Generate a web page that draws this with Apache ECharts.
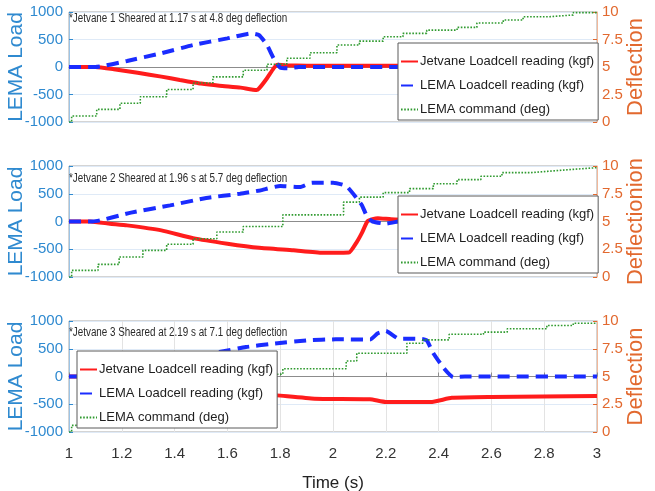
<!DOCTYPE html>
<html>
<head>
<meta charset="utf-8">
<script src="https://cdn.jsdelivr.net/npm/echarts@6/dist/echarts.min.js"></script>
<style>
  html, body { margin: 0; padding: 0; background: #fff; }
  #chart { width: 655px; height: 491px; }
</style>
</head>
<body>
<div id="chart"></div>
<script>
// ---- data: time (s), loads (kgf), command (deg) ----
const timeTicks = [1, 1.2, 1.4, 1.6, 1.8, 2, 2.2, 2.4, 2.6, 2.8, 3];
const loadTicks = [-1000, -500, 0, 500, 1000];
const deflTicks = [0, 2.5, 5, 7.5, 10];

const seriesNames = ['Jetvane Loadcell reading (kgf)', 'LEMA Loadcell reading (kgf)', 'LEMA command (deg)'];
const notes = [
  '*Jetvane 1 Sheared at 1.17 s at 4.8 deg deflection',
  '*Jetvane 2 Sheared at 1.96 s at 5.7 deg deflection',
  '*Jetvane 3 Sheared at 2.19 s at 7.1 deg deflection'
];
const rightNames = ['Deflection', 'Deflectionion', 'Deflection'];

// Jetvane 1
const jet1T = [1.00, 1.10, 1.17, 1.26, 1.35, 1.42, 1.50, 1.57, 1.65, 1.71, 1.72, 1.75, 1.775, 1.79, 1.82, 1.90, 2.20, 2.60, 3.00];
const jet1 = [0, 0, -40, -105, -175, -235, -300, -340, -375, -418, -390, -205, -25, 40, 30, 25, 25, 25, 25];
const lema1T = [1.00, 1.10, 1.22, 1.35, 1.47, 1.60, 1.69, 1.72, 1.75, 1.775, 1.80, 1.83, 1.87, 2.40, 3.00];
const lema1 = [0, 0, 110, 250, 400, 520, 612, 580, 400, 160, -10, -25, 0, 0, 0];
const cmd1T = [1.00, 1.01, 1.105, 1.193, 1.27, 1.37, 1.47, 1.545, 1.66, 1.75, 1.825, 1.913, 2.015, 2.10, 2.19, 2.265, 2.355, 2.47, 2.545, 2.645, 2.72, 2.82, 2.91, 3.00];
const cmd1 = [0, 0.55, 1.15, 1.7, 2.3, 2.95, 3.55, 4.1, 4.7, 5.25, 5.8, 6.3, 7.0, 7.35, 7.75, 8.06, 8.35, 8.6, 9.0, 9.27, 9.57, 9.73, 9.94, 9.94];

// Jetvane 2
const jet2T = [1.00, 1.08, 1.155, 1.22, 1.35, 1.47, 1.60, 1.72, 1.85, 1.96, 2.06, 2.09, 2.11, 2.13, 2.15, 2.17, 2.22, 2.30, 2.50, 3.00];
const jet2 = [0, 0, -40, -70, -160, -300, -400, -475, -520, -565, -560, -370, -200, 0, 40, 60, 40, 30, 20, 20];
const lema2T = [1.00, 1.09, 1.235, 1.383, 1.52, 1.648, 1.723, 1.80, 1.875, 1.92, 2.00, 2.05, 2.09, 2.11, 2.13, 2.15, 2.20, 2.25, 3.00];
const lema2 = [0, 0, 160, 290, 425, 500, 560, 640, 620, 700, 700, 640, 420, 290, 80, 0, -40, 0, 0];
const cmd2T = [1.00, 1.01, 1.11, 1.19, 1.28, 1.37, 1.47, 1.56, 1.66, 1.81, 2.04, 2.10, 2.19, 2.29, 2.38, 2.47, 2.56, 2.64, 2.75, 2.83, 2.91, 3.00];
const cmd2 = [0, 0.6, 1.14, 1.8, 2.4, 2.95, 3.45, 4.05, 4.55, 5.6, 6.75, 7.2, 7.6, 7.96, 8.4, 8.77, 9.07, 9.4, 9.55, 9.7, 9.85, 9.85];

// Jetvane 3
const jet3T = [1.00, 1.03, 1.10, 1.30, 1.50, 1.70, 1.787, 1.93, 2.14, 2.20, 2.37, 2.45, 2.60, 3.00];
const jet3 = [0, 0, -20, -150, -250, -310, -340, -400, -410, -460, -460, -385, -370, -350];
const lema3T = [1.00, 1.05, 1.10, 1.30, 1.45, 1.57, 1.67, 1.77, 1.90, 2.01, 2.14, 2.17, 2.20, 2.25, 2.33, 2.355, 2.38, 2.42, 2.455, 2.50, 3.00];
const lema3 = [0, 0, 30, 200, 330, 440, 530, 590, 650, 670, 665, 780, 820, 680, 680, 650, 420, 150, -10, 0, 0];
const cmd3T = [1.00, 1.01, 1.10, 1.19, 1.28, 1.37, 1.47, 1.56, 1.66, 1.76, 1.81, 2.05, 2.09, 2.28, 2.34, 2.44, 2.57, 2.66, 2.81, 2.91, 3.00];
const cmd3 = [0, 0.6, 1.2, 1.8, 2.4, 2.95, 3.5, 4.1, 4.6, 5.2, 5.7, 6.4, 7.1, 8.0, 8.3, 8.8, 9.0, 9.3, 9.6, 9.8, 9.8];

// ---- styling ----
const SANS = '"Liberation Sans", Arial, sans-serif';
const BLUE_AX = '#2f8ad0';
const ORANGE_AX = '#e2692f';
const RED = '#ff1c1c';
const BLUE = '#1a2cff';
const GREEN = '#2f9a2f';

const zip = (t, v) => t.map((x, i) => [x, v[i]]);

const panels = [
  { top: 12, height: 110, jet: zip(jet1T, jet1), lema: zip(lema1T, lema1), cmd: zip(cmd1T, cmd1),
    legend: { left: 398, top: 43 }, noteTop: 13 },
  { top: 166, height: 111, jet: zip(jet2T, jet2), lema: zip(lema2T, lema2), cmd: zip(cmd2T, cmd2),
    legend: { left: 398, top: 196 }, noteTop: 173 },
  { top: 321, height: 111, jet: zip(jet3T, jet3), lema: zip(lema3T, lema3), cmd: zip(cmd3T, cmd3),
    legend: { left: 77, top: 351 }, noteTop: 327 }
];

const grid = [], xAxis = [], yAxis = [], series = [], legend = [], graphic = [];

panels.forEach((p, i) => {
  const last = i === panels.length - 1;
  grid.push({ left: 69, width: 528, top: p.top, height: p.height, show: true,
              containLabel: false, outerBoundsMode: 'none',
              borderColor: '#a8a8a8', borderWidth: 1, backgroundColor: '#fff' });
  xAxis.push({
    type: 'value', gridIndex: i, min: timeTicks[0], max: timeTicks[timeTicks.length - 1], interval: 0.2,
    axisLine: { show: true, lineStyle: { color: '#8c8c8c', width: 1 } },
    axisTick: { show: last, inside: true, length: 4, lineStyle: { color: '#8c8c8c' } },
    axisLabel: { show: last, fontFamily: SANS, fontSize: 15, color: '#333', margin: 14,
                 formatter: v => String(Math.round(v * 10) / 10) },
    splitLine: { show: last, lineStyle: { color: '#e3e3e3', width: 1 } },
    name: last ? 'Time (s)' : '', nameLocation: 'middle', nameGap: 43, nameMoveOverlap: false,
    nameTextStyle: { fontFamily: SANS, fontSize: 17, color: '#222' }
  });
  yAxis.push({
    type: 'value', gridIndex: i, position: 'left', min: loadTicks[0], max: loadTicks[loadTicks.length - 1], interval: 500,
    axisLine: { show: true, lineStyle: { color: '#9cc4e6', width: 1 } },
    axisTick: { show: true, inside: true, length: 4, lineStyle: { color: BLUE_AX } },
    axisLabel: { fontFamily: SANS, fontSize: 15, color: BLUE_AX, margin: 6, formatter: v => String(v) },
    splitLine: { show: true, lineStyle: { color: '#dfeaf7', width: 1 } },
    name: 'LEMA Load', nameLocation: 'middle', nameRotate: 90, nameGap: 42, nameMoveOverlap: false,
    nameTextStyle: { fontFamily: SANS, fontSize: 21, color: BLUE_AX }
  });
  yAxis.push({
    type: 'value', gridIndex: i, position: 'right', min: deflTicks[0], max: deflTicks[deflTicks.length - 1], interval: 2.5,
    axisLine: { show: true, lineStyle: { color: '#f2b89a', width: 1 } },
    axisTick: { show: true, inside: true, length: 4, lineStyle: { color: ORANGE_AX } },
    axisLabel: { fontFamily: SANS, fontSize: 15, color: ORANGE_AX, margin: 5, formatter: v => String(v) },
    splitLine: { show: false },
    name: rightNames[i], nameLocation: 'middle', nameRotate: 90, nameGap: 28, nameMoveOverlap: false,
    nameTextStyle: { fontFamily: SANS, fontSize: 22, color: ORANGE_AX }
  });
  series.push({
    name: seriesNames[0], type: 'line', xAxisIndex: i, yAxisIndex: 2 * i, data: p.jet,
    symbol: 'none', smooth: 0.15, z: 2, lineStyle: { color: RED, width: 4 }, itemStyle: { color: RED }
  });
  series.push({
    name: seriesNames[1], type: 'line', xAxisIndex: i, yAxisIndex: 2 * i, data: p.lema,
    symbol: 'none', smooth: 0.15, z: 3, lineStyle: { color: BLUE, width: 4, type: [12, 7] }, itemStyle: { color: BLUE }
  });
  series.push({
    name: seriesNames[2], type: 'line', xAxisIndex: i, yAxisIndex: 2 * i + 1, data: p.cmd,
    symbol: 'none', step: 'end', z: 4, lineStyle: { color: GREEN, width: 1.6, type: [1.6, 1.6] }, itemStyle: { color: GREEN }
  });
  legend.push({
    data: seriesNames, orient: 'vertical', left: p.legend.left, top: p.legend.top,
    itemWidth: 17, itemHeight: 13, itemGap: 11, padding: [12, 4, 4, 2],
    backgroundColor: '#fff', borderColor: '#5a5a5a', borderWidth: 1, borderRadius: 0,
    itemStyle: { opacity: 0 },
    textStyle: { fontFamily: SANS, fontSize: 13, color: '#1e1e1e', padding: [0, 0, 0, -3] },
    z: 10, selectedMode: false
  });
  graphic.push({
    type: 'text', x: 69, y: p.noteTop, scaleX: 0.82, z: 20,
    style: { text: notes[i], font: '12px ' + SANS, fill: '#2a2a2a' }
  });
});

const chart = echarts.init(document.getElementById('chart'), null, { renderer: 'canvas' });
chart.setOption({
  backgroundColor: '#fff',
  animation: false,
  grid, xAxis, yAxis, series, legend, graphic
});
</script>
</body>
</html>
